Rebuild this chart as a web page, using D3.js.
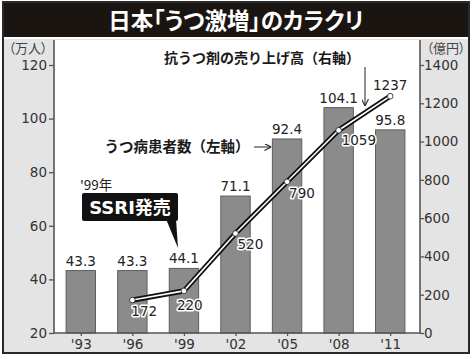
<!DOCTYPE html>
<html><head><meta charset="utf-8">
<script src="https://cdn.jsdelivr.net/npm/d3@7"></script>
<style>
html,body{margin:0;padding:0;background:#fff;}
text{font-family:"DejaVu Sans","Noto Sans CJK JP",sans-serif;}
.jp{font-family:"Noto Sans CJK JP",sans-serif;font-feature-settings:"palt";}
.jpn{font-family:"Noto Sans CJK JP",sans-serif;}
</style></head>
<body>
<svg id="c" width="473" height="359"></svg>
<script>
const years = ["'93","'96","'99","'02","'05","'08","'11"];
const patients = [43.3, 43.3, 44.1, 71.1, 92.4, 104.1, 95.8];
const salesYears = ["'96","'99","'02","'05","'08","'11"];
const sales = [172, 220, 520, 790, 1059, 1237];
const leftTicks = [20, 40, 60, 80, 100, 120];
const rightTicks = [0, 200, 400, 600, 800, 1000, 1200, 1400];
const title = "日本「うつ激増」のカラクリ";
const leftUnit = "（万人）";
const rightUnit = "（億円）";
const salesNote = "抗うつ剤の売り上げ高（右軸）";
const patientsNote = "うつ病患者数（左軸）";
const ssriYear = "'99年";
const ssriText = "SSRI発売";

const svg = d3.select("#c");
const plot = {l: 54, r: 420, t: 40, b: 333};

const x = d3.scalePoint().domain(years).range([55, 416]).padding(0.5);
const bw = x.step() * 0.57;
const yL = d3.scaleLinear().domain([20, 120]).range([plot.b, 65]);
const yR = d3.scaleLinear().domain([0, 1400]).range([plot.b, 65]);

// frame & panels
svg.append("rect").attr("x",0).attr("y",0).attr("width",473).attr("height",359).attr("fill","#fff");
svg.append("rect").attr("x",4).attr("y",39).attr("width",465).attr("height",313).attr("fill","#e4e4e4");
svg.append("rect").attr("x",plot.l).attr("y",plot.t).attr("width",plot.r-plot.l).attr("height",plot.b-plot.t).attr("fill","#fff");
svg.append("rect").attr("x",3).attr("y",2).attr("width",466).attr("height",35).attr("fill","#1b1512");
svg.append("rect").attr("x",3).attr("y",2).attr("width",466).attr("height",351).attr("fill","none").attr("stroke","#2a2a2a").attr("stroke-width",2);

svg.append("text").attr("class","jp").attr("x",236).attr("y",28.5).attr("text-anchor","middle")
  .attr("fill","#fff").attr("font-size",22.5).attr("font-weight",700).text(title);

// bars
svg.append("g").selectAll("rect").data(patients).join("rect")
  .attr("x",(d,i)=>x(years[i])-bw/2).attr("width",bw)
  .attr("y",d=>yL(d)).attr("height",d=>plot.b-yL(d))
  .attr("fill","#8b8b8b").attr("stroke","#5e5e5e").attr("stroke-width",1);
svg.append("g").selectAll("text").data(patients).join("text")
  .attr("x",(d,i)=>x(years[i])).attr("y",d=>yL(d)-5).attr("text-anchor","middle")
  .attr("font-size",13.5).attr("fill","#222").text(d=>d.toFixed(1));

// axes
const axL = svg.append("g").attr("transform",`translate(${plot.l},0)`)
  .call(d3.axisLeft(yL).tickValues(leftTicks).tickFormat(d3.format("d")).tickSize(5).tickPadding(2));
const axR = svg.append("g").attr("transform",`translate(${plot.r},0)`)
  .call(d3.axisRight(yR).tickValues(rightTicks).tickFormat(d3.format("d")).tickSize(4).tickPadding(0));
const axB = svg.append("g").attr("transform",`translate(0,${plot.b})`)
  .call(d3.axisBottom(x).tickSize(3).tickPadding(3));
[axL,axR,axB].forEach(a=>{
  a.select(".domain").remove();
  a.selectAll(".tick line").attr("stroke","#555").attr("stroke-width",1.3);
  a.selectAll(".tick text").attr("font-size",13.5).attr("fill","#333")
   .attr("font-family","DejaVu Sans, sans-serif");
});
svg.append("line").attr("x1",plot.l).attr("x2",plot.l).attr("y1",plot.t).attr("y2",plot.b+0.5).attr("stroke","#555").attr("stroke-width",1.6);
svg.append("line").attr("x1",plot.r).attr("x2",plot.r).attr("y1",plot.t).attr("y2",plot.b+0.5).attr("stroke","#555").attr("stroke-width",1.6);
svg.append("line").attr("x1",plot.l).attr("x2",plot.r).attr("y1",plot.b).attr("y2",plot.b).attr("stroke","#555").attr("stroke-width",1.6);

svg.append("text").attr("class","jp").attr("x",28).attr("y",53).attr("text-anchor","middle").attr("font-size",13).attr("fill","#444").text(leftUnit);
svg.append("text").attr("class","jp").attr("x",446).attr("y",53).attr("text-anchor","middle").attr("font-size",13).attr("fill","#444").text(rightUnit);

// line
const pts = sales.map((v,i)=>[x(salesYears[i]), yR(v)]);
const line = d3.line();
svg.append("path").attr("d",line(pts)).attr("fill","none").attr("stroke","#111").attr("stroke-width",5.2).attr("stroke-linejoin","round").attr("stroke-linecap","round");
svg.append("path").attr("d",line(pts)).attr("fill","none").attr("stroke","#fff").attr("stroke-width",1.6).attr("stroke-linejoin","round");
svg.append("g").selectAll("circle").data(pts).join("circle")
  .attr("cx",d=>d[0]).attr("cy",d=>d[1]).attr("r",2.8).attr("fill","#fff").attr("stroke","#222").attr("stroke-width",0.8);

const lblOff = [[-1,16,"start"],[-7,19,"start"],[2,16,"start"],[2,16,"start"],[3,15,"start"],[0,-6,"middle"]];
svg.append("g").selectAll("text").data(sales).join("text")
  .attr("x",(d,i)=>pts[i][0]+lblOff[i][0]).attr("y",(d,i)=>pts[i][1]+lblOff[i][1])
  .attr("text-anchor",(d,i)=>lblOff[i][2])
  .attr("font-size",13.5).attr("fill","#222")
  .attr("stroke","#fff").attr("stroke-width",3).attr("paint-order","stroke").attr("stroke-linejoin","round")
  .text(d=>d);

// annotations
const defs = svg.append("defs");
defs.append("marker").attr("id","ah").attr("viewBox","0 0 10 10").attr("refX",10).attr("refY",5)
  .attr("markerWidth",7).attr("markerHeight",7).attr("markerUnits","userSpaceOnUse").attr("orient","auto")
  .append("path").attr("d","M0,0 L10,5 L0,10").attr("fill","none").attr("stroke","#222").attr("stroke-width",1.5);

svg.append("text").attr("class","jpn").attr("x",262).attr("y",63).attr("text-anchor","middle")
  .attr("font-size",14).attr("font-weight",700).attr("fill","#1a1a1a").text(salesNote);
svg.append("line").attr("x1",365).attr("x2",365).attr("y1",67).attr("y2",106)
  .attr("stroke","#222").attr("stroke-width",1).attr("marker-end","url(#ah)");

svg.append("text").attr("class","jpn").attr("x",177).attr("y",152).attr("text-anchor","middle")
  .attr("font-size",14.5).attr("font-weight",700).attr("fill","#1a1a1a").text(patientsNote);
svg.append("line").attr("x1",254).attr("x2",x("'05")-bw/2-1).attr("y1",147).attr("y2",147)
  .attr("stroke","#222").attr("stroke-width",1).attr("marker-end","url(#ah)");

svg.append("text").attr("class","jp").attr("x",80).attr("y",190).attr("font-size",13.5).attr("fill","#222").text(ssriYear);
svg.append("path").attr("d","M166,219 L176,219 L178,248 Z").attr("fill","#111");
svg.append("rect").attr("x",82).attr("y",193).attr("width",96).attr("height",28).attr("rx",2).attr("fill","#111");
svg.append("text").attr("x",130).attr("y",214).attr("text-anchor","middle").attr("fill","#fff")
  .attr("font-size",18).attr("font-weight",700).attr("font-family","Liberation Sans, Noto Sans CJK JP, sans-serif").text(ssriText);
</script>
</body></html>
